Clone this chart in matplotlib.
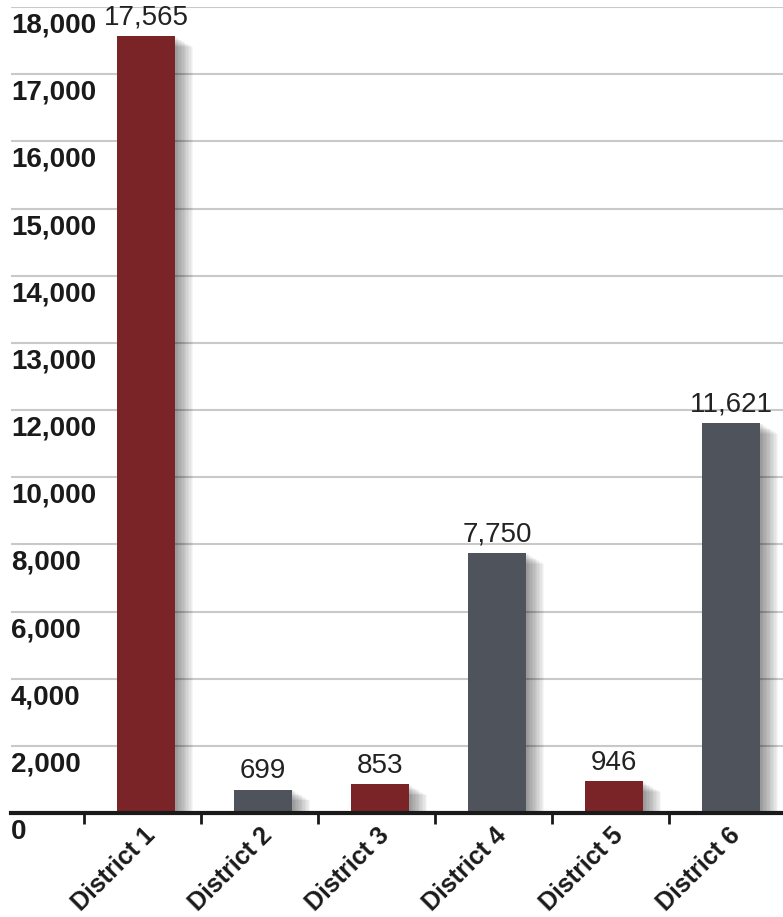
import numpy as np
import matplotlib
matplotlib.use("Agg")
import matplotlib.pyplot as plt
import matplotlib.patheffects as pe

# ---- data ----
districts = ["District 1", "District 2", "District 3", "District 4", "District 5", "District 6"]
values = [17565, 699, 853, 7750, 946, 11621]
bar_colors = ["#7b2428", "#4f535b", "#7b2428", "#4f535b", "#7b2428", "#4f535b"]
tick_values = [0, 2000, 4000, 6000, 8000, 10000, 12000, 13000, 14000, 15000, 16000, 17000, 18000]
tick_labels = ["0", "2,000", "4,000", "6,000", "8,000", "10,000", "12,000",
               "13,000", "14,000", "15,000", "16,000", "17,000", "18,000"]
value_labels = ["17,565", "699", "853", "7,750", "946", "11,621"]

FONT = "Liberation Sans"

fig = plt.figure(figsize=(7.83, 9.17), dpi=100)
fig.patch.set_facecolor("white")
W, H = 783, 917
ax = fig.add_axes([11 / W, (H - 813) / H, (W - 11) / W, (813 - 7) / H])
ax.set_facecolor("white")

# piecewise scale matching evenly spaced tick labels
idx = np.arange(len(tick_values), dtype=float)
tv = np.array(tick_values, dtype=float)
def fwd(v):
    return np.interp(v, tv, idx)
def inv(p):
    return np.interp(p, idx, tv)
ax.set_yscale("function", functions=(fwd, inv))
ax.set_ylim(0, 18000)
ax.set_xlim(-1.154, 5.444)

x = np.arange(len(districts))

# grid lines
ax.set_yticks(tick_values)
ax.set_yticklabels([])
ax.tick_params(axis="y", length=0)
ax.grid(axis="y", color="#c9c9c9", linewidth=1.5, zorder=0)
ax.set_axisbelow(True)

# soft shadow via several offset layers
shadow = [pe.SimplePatchShadow(offset=(k * 1.0, -k * 0.6), shadow_rgbFace="#000000", alpha=0.035)
          for k in range(1, 14)] + [pe.Normal()]
bars = ax.bar(x, values, width=0.5, color=bar_colors, zorder=3)
for b in bars:
    b.set_path_effects(shadow)

# value labels
for xi, v, lab in zip(x, values, value_labels):
    ax.annotate(lab, (xi, v), xytext=(0, 4), textcoords="offset points",
                ha="center", va="bottom", fontsize=20, family=FONT, color="#222222", zorder=5)

# y labels below each grid line
for v, lab in zip(tick_values, tick_labels):
    ax.annotate(lab, (0, v), xycoords=("axes fraction", "data"), xytext=(0, -4),
                textcoords="offset points", ha="left", va="top", fontsize=20,
                fontweight="bold", family=FONT, color="#1a1a1a", zorder=5)

# spines
for s in ["top", "right", "left"]:
    ax.spines[s].set_visible(False)
ax.spines["bottom"].set_color("#1a1a1a")
ax.spines["bottom"].set_linewidth(3)
ax.spines["bottom"].set_zorder(4)

# x ticks between categories
ax.set_xticks(x - 0.53)
ax.set_xticklabels([])
ax.tick_params(axis="x", direction="out", length=8, width=2, color="#1a1a1a")

# category labels
for xi, lab in zip(x, districts):
    ax.annotate(lab, (xi, 0), xytext=(-2, -7), textcoords="offset points",
                ha="right", va="top", rotation=45, rotation_mode="anchor",
                fontsize=18, fontweight="bold", family=FONT, color="#1a1a1a",
                annotation_clip=False)

fig.savefig("out.png", dpi=100, facecolor=fig.get_facecolor())
